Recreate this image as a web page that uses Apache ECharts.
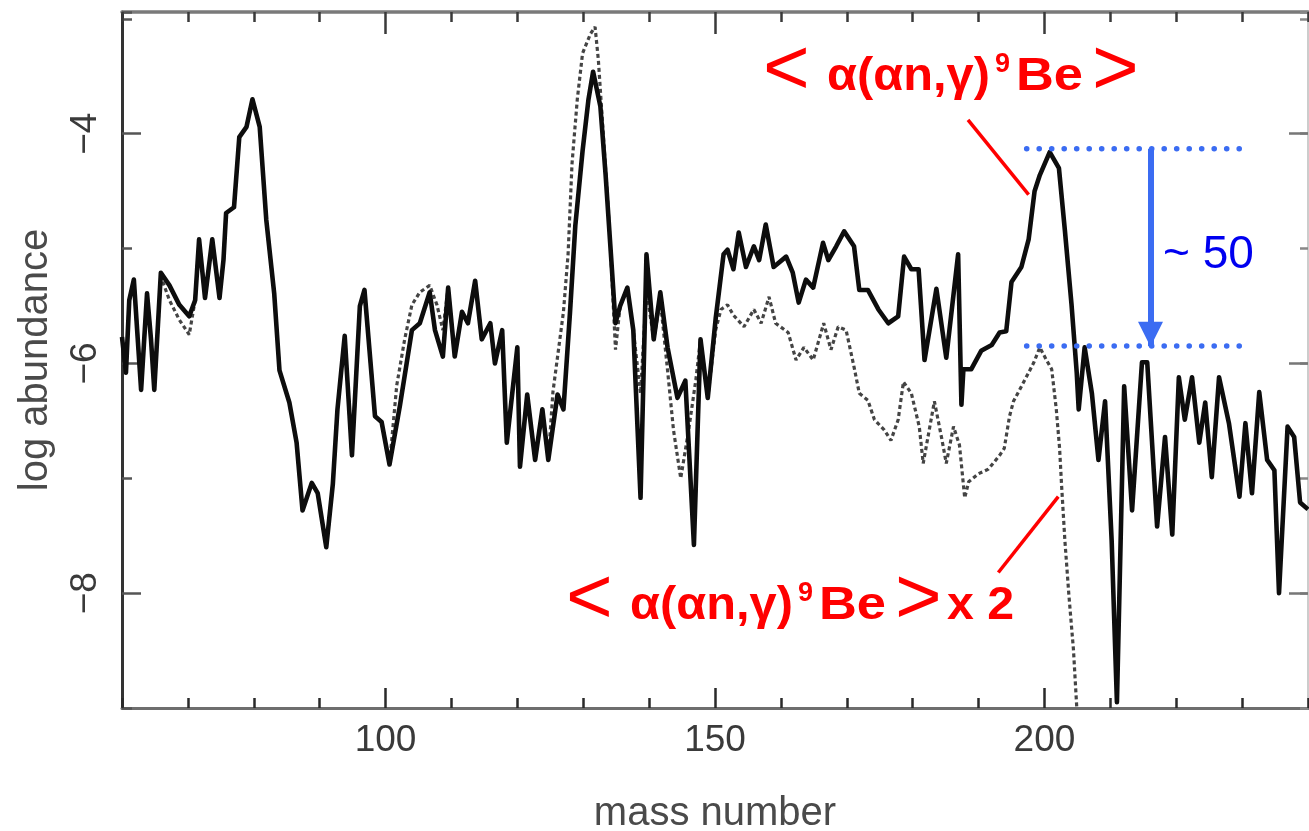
<!DOCTYPE html>
<html>
<head>
<meta charset="utf-8">
<script src="https://cdn.jsdelivr.net/npm/echarts@6.0.0/dist/echarts.min.js"></script>
<style>
  html, body { margin: 0; padding: 0; background: #ffffff; }
  #chart { width: 1309px; height: 831px; }
</style>
</head>
<body>
<div id="chart"></div>
<script>
// Abundance pattern: solid curve (full network) and dotted curve (rate x 2)
const massSolid = [
  60.0,60.6,61.1,61.8,62.3,62.9,63.8,64.4,64.9,65.9,
  67.2,68.7,70.2,71.1,71.7,72.6,73.7,74.8,75.4,75.8,
  77.0,77.8,78.9,79.8,80.9,81.9,83.1,83.9,85.4,86.5,
  87.4,88.8,89.7,91.0,92.0,92.7,93.8,94.9,96.1,96.8,
  98.4,99.4,100.6,102.2,103.2,104.0,105.2,106.7,107.5,108.7,
  109.5,110.5,111.6,112.5,113.6,114.6,115.9,116.6,117.7,118.4,
  120.0,120.4,121.5,122.7,123.8,124.7,126.1,127.0,128.0,128.8,
  129.9,130.8,131.5,132.6,133.4,134.1,134.9,135.6,136.7,137.6,
  138.7,139.6,140.7,141.7,142.8,144.3,145.5,146.8,147.8,148.9,
  150.1,151.3,151.9,152.8,153.6,154.7,155.9,156.7,157.7,158.9,
  160.8,161.8,162.7,163.8,164.9,166.4,167.2,168.4,169.6,171.1,
  171.9,173.2,174.8,176.3,177.8,178.7,179.8,180.9,181.8,183.6,
  185.1,186.9,187.4,187.7,188.9,190.4,192.0,193.2,194.2,195.0,
  196.5,197.6,198.5,199.3,200.8,202.2,203.1,204.1,204.9,205.2,
  206.1,207.2,208.2,209.2,210.2,211.0,212.1,213.3,214.8,215.6,
  217.1,218.3,219.4,220.4,221.3,222.4,223.5,224.4,225.4,226.5,
  228.0,229.6,230.5,231.5,232.6,233.8,234.9,235.6,236.9,237.9,
  238.8,240.0
];
const logSolid = [
  -5.77,-6.08,-5.45,-5.27,-5.71,-6.23,-5.39,-5.79,-6.23,-5.21,
  -5.32,-5.49,-5.59,-5.45,-4.92,-5.43,-4.92,-5.43,-5.10,-4.69,
  -4.64,-4.03,-3.94,-3.70,-3.94,-4.75,-5.39,-6.06,-6.34,-6.69,
  -7.28,-7.04,-7.13,-7.60,-7.05,-6.40,-5.76,-6.80,-5.50,-5.36,
  -6.46,-6.51,-6.88,-6.36,-6.00,-5.71,-5.65,-5.38,-5.71,-5.94,
  -5.34,-5.94,-5.55,-5.65,-5.28,-5.79,-5.65,-6.00,-5.71,-6.69,
  -5.86,-6.90,-6.27,-6.84,-6.40,-6.84,-6.27,-6.40,-5.55,-4.80,
  -4.15,-3.70,-3.46,-3.76,-4.36,-4.96,-5.65,-5.50,-5.34,-5.71,
  -7.17,-5.05,-5.79,-5.38,-5.86,-6.30,-6.15,-7.58,-5.79,-6.30,
  -5.61,-5.05,-5.01,-5.18,-4.86,-5.16,-4.98,-5.10,-4.79,-5.16,
  -5.07,-5.21,-5.47,-5.27,-5.34,-4.95,-5.10,-4.98,-4.85,-4.98,
  -5.36,-5.36,-5.53,-5.65,-5.59,-5.07,-5.18,-5.18,-5.97,-5.35,
  -5.95,-5.05,-6.36,-6.05,-6.05,-5.89,-5.84,-5.73,-5.72,-5.29,
  -5.16,-4.92,-4.50,-4.36,-4.16,-4.30,-4.84,-5.48,-6.08,-6.40,
  -5.86,-6.26,-6.84,-6.33,-7.54,-8.95,-6.20,-7.28,-5.99,-5.99,
  -7.42,-6.64,-7.49,-6.12,-6.49,-6.12,-6.69,-6.34,-6.99,-6.12,
  -6.52,-7.16,-6.52,-7.13,-6.25,-6.84,-6.93,-8.00,-6.55,-6.64,
  -7.21,-7.27
];
const massDotted = [
  60.0,60.6,61.1,61.8,62.3,62.9,63.8,64.4,64.9,65.9,
  67.2,68.7,70.2,71.1,71.7,72.6,73.7,74.8,75.4,75.8,
  77.0,77.8,78.9,79.8,80.9,81.9,83.1,83.9,85.4,86.5,
  87.4,88.8,89.7,91.0,92.0,92.7,93.8,94.9,96.1,96.8,
  98.4,99.4,100.6,101.7,102.9,104.0,105.2,106.7,107.8,108.7,
  109.5,110.5,111.6,112.5,113.6,114.6,115.9,116.6,117.7,118.4,
  120.0,120.4,121.5,122.7,123.8,124.7,125.4,127.0,127.7,128.3,
  129.1,129.9,131.1,131.8,132.3,133.1,133.7,134.1,134.9,135.6,
  136.7,137.6,138.7,139.6,140.7,141.7,142.8,143.7,144.8,146.0,
  147.1,147.8,148.9,150.1,150.9,151.9,152.8,154.4,155.9,157.0,
  158.2,159.2,161.1,162.3,163.5,164.9,166.5,167.6,168.7,169.9,
  171.1,171.9,173.2,174.2,175.7,176.7,177.8,178.6,179.8,181.0,
  181.6,183.3,184.4,185.1,186.2,187.1,187.9,188.5,190.0,191.5,
  193.2,193.9,194.7,195.3,196.5,197.6,198.4,199.3,200.3,201.1,
  201.8,202.3,202.6,203.1,203.7,204.4,204.9
];
const logDotted = [
  -5.77,-6.08,-5.45,-5.27,-5.71,-6.23,-5.39,-5.79,-6.23,-5.24,
  -5.45,-5.62,-5.75,-5.45,-4.92,-5.43,-4.92,-5.43,-5.10,-4.69,
  -4.64,-4.03,-3.94,-3.70,-3.94,-4.75,-5.39,-6.06,-6.34,-6.69,
  -7.28,-7.04,-7.13,-7.60,-7.05,-6.40,-5.76,-6.80,-5.50,-5.36,
  -6.46,-6.51,-6.88,-6.19,-5.79,-5.49,-5.38,-5.32,-5.49,-5.71,
  -5.34,-5.94,-5.55,-5.65,-5.28,-5.79,-5.65,-6.00,-5.71,-6.69,
  -5.86,-6.90,-6.27,-6.84,-6.40,-6.84,-6.25,-5.55,-5.05,-4.26,
  -3.70,-3.30,-3.13,-3.07,-3.36,-4.05,-4.57,-4.96,-5.88,-5.50,
  -5.34,-5.71,-6.26,-5.36,-5.79,-5.45,-6.06,-6.58,-7.00,-6.58,
  -6.14,-5.79,-6.30,-5.71,-5.53,-5.49,-5.58,-5.68,-5.53,-5.65,
  -5.42,-5.65,-5.73,-5.97,-5.86,-5.97,-5.65,-5.88,-5.68,-5.71,
  -6.03,-6.26,-6.32,-6.49,-6.58,-6.67,-6.49,-6.16,-6.26,-6.55,
  -6.87,-6.33,-6.65,-6.87,-6.55,-6.71,-7.17,-7.03,-6.96,-6.92,
  -6.80,-6.74,-6.46,-6.33,-6.20,-6.08,-5.99,-5.86,-5.97,-6.05,
  -6.40,-6.74,-7.06,-7.54,-8.01,-8.49,-8.99
];

// Axis tick values
const xLabelTicks = [100, 150, 200];
const yLabelTicks = [-8, -6, -4];

// Peak-ratio marker (~50) between the two curves near A = 200
const ratioSpan = [197.3, 231.2];
const ratioLevels = [-4.13, -5.85];
const ratioArrowMass = 216.1;

// Callout leader lines [mass, log abundance]
const calloutTop = [[188.4, -3.88], [197.6, -4.53]];
const calloutBottom = [[193.0, -7.82], [202.1, -7.16]];

const pair = (xs, ys) => xs.slice(0, Math.min(xs.length, ys.length)).map((x, i) => [x, ys[i]]);

const FONT = '"Liberation Sans", Arial, Helvetica, sans-serif';
const RED = '#ff0000';
const BLUE = '#3b6cf2';

const xRange = { min: 60, max: 240 };
const yRange = { min: -9, max: -2.94 };

const chart = echarts.init(document.getElementById('chart'), null, { renderer: 'canvas' });

const option = {
  backgroundColor: '#ffffff',
  animation: false,
  grid: { left: 122, right: 1, top: 12, bottom: 123, containLabel: false, outerBoundsMode: 'none' },
  xAxis: [
    {
      type: 'value', position: 'bottom', ...xRange, interval: 10,
      axisLine: { show: true, lineStyle: { color: '#6e6e6e', width: 3 } },
      axisTick: { show: true, inside: true, length: 10, lineStyle: { color: '#2a2a2a', width: 2.5 } },
      axisLabel: { customValues: xLabelTicks, fontSize: 37, color: '#3a3a3a', fontFamily: FONT, margin: 14 },
      splitLine: { show: false },
      name: 'mass number', nameLocation: 'middle', nameGap: 86,
      nameTextStyle: { fontSize: 40, color: '#4a4a4a', fontFamily: FONT }
    },
    {
      type: 'value', position: 'bottom', ...xRange,
      axisLine: { show: false },
      axisTick: { show: true, inside: true, length: 20, customValues: xLabelTicks, lineStyle: { color: '#2a2a2a', width: 2.5 } },
      axisLabel: { show: false },
      splitLine: { show: false }
    },
    {
      type: 'value', position: 'top', ...xRange, interval: 10,
      axisLine: { show: true, lineStyle: { color: '#7a7a7a', width: 3.5 } },
      axisTick: { show: true, inside: true, length: 10, lineStyle: { color: '#3a3a3a', width: 2.5 } },
      axisLabel: { show: false },
      splitLine: { show: false }
    },
    {
      type: 'value', position: 'top', ...xRange,
      axisLine: { show: false },
      axisTick: { show: true, inside: true, length: 22, customValues: xLabelTicks, lineStyle: { color: '#3a3a3a', width: 2.5 } },
      axisLabel: { show: false },
      splitLine: { show: false }
    }
  ],
  yAxis: [
    {
      type: 'value', position: 'left', ...yRange, interval: 1,
      axisLine: { show: true, lineStyle: { color: '#333333', width: 3 } },
      axisTick: { show: true, inside: true, length: 10, lineStyle: { color: '#555555', width: 2.5 } },
      axisLabel: {
        customValues: yLabelTicks, rotate: 90, fontSize: 37, color: '#3a3a3a', fontFamily: FONT, margin: 18,
        formatter: v => '\u2212' + Math.abs(v)
      },
      splitLine: { show: false },
      name: 'log abundance', nameLocation: 'middle', nameGap: 66, nameMoveOverlap: false,
      nameTextStyle: { fontSize: 40, color: '#4a4a4a', fontFamily: FONT }
    },
    {
      type: 'value', position: 'left', ...yRange,
      axisLine: { show: false },
      axisTick: { show: true, inside: true, length: 19, customValues: yLabelTicks, lineStyle: { color: '#555555', width: 2.5 } },
      axisLabel: { show: false },
      splitLine: { show: false }
    },
    {
      type: 'value', position: 'right', ...yRange, interval: 1,
      axisLine: { show: true, lineStyle: { color: '#cccccc', width: 2 } },
      axisTick: { show: true, inside: true, length: 8, lineStyle: { color: '#888888', width: 2.5 } },
      axisLabel: { show: false },
      splitLine: { show: false }
    },
    {
      type: 'value', position: 'right', ...yRange,
      axisLine: { show: false },
      axisTick: { show: true, inside: true, length: 19, customValues: yLabelTicks, lineStyle: { color: '#777777', width: 2.5 } },
      axisLabel: { show: false },
      splitLine: { show: false }
    }
  ],
  series: [
    {
      name: 'x 2', type: 'line', xAxisIndex: 0, yAxisIndex: 0, z: 2,
      data: pair(massDotted, logDotted),
      showSymbol: false, symbol: 'none', smooth: false, clip: true,
      lineStyle: { color: '#444444', width: 3.2, type: [4, 3] }
    },
    {
      name: 'standard', type: 'line', xAxisIndex: 0, yAxisIndex: 0, z: 3,
      data: pair(massSolid, logSolid),
      showSymbol: false, symbol: 'none', smooth: false, clip: true,
      lineStyle: { color: '#0d0d0d', width: 4.6, join: 'round' }
    },
    {
      name: 'ratio', type: 'line', xAxisIndex: 0, yAxisIndex: 0, z: 6, silent: true,
      data: ratioSpan.map(m => [m, ratioLevels[0]]),
      showSymbol: false, symbol: 'none',
      lineStyle: { color: BLUE, width: 5.5, type: [0.1, 12.4], cap: 'round' },
      markLine: {
        silent: true, animation: false, label: { show: false }, emphasis: { disabled: true },
        symbol: ['none', 'none'],
        data: [
          [
            { coord: [ratioSpan[0], ratioLevels[1]], symbol: 'none',
              lineStyle: { color: BLUE, width: 5.5, type: [0.1, 12.4], cap: 'round' } },
            { coord: [ratioSpan[1], ratioLevels[1]], symbol: 'none' }
          ],
          [
            { coord: [ratioArrowMass, ratioLevels[0]], symbol: 'none',
              lineStyle: { color: BLUE, width: 6, type: 'solid' } },
            { coord: [ratioArrowMass, ratioLevels[1]], symbol: 'triangle', symbolSize: 25, symbolOffset: [0, 12] }
          ]
        ]
      }
    },
    {
      name: 'callout top', type: 'line', z: 6, silent: true,
      data: calloutTop, showSymbol: false, symbol: 'none',
      lineStyle: { color: RED, width: 3.5 }
    },
    {
      name: 'callout bottom', type: 'line', z: 6, silent: true,
      data: calloutBottom, showSymbol: false, symbol: 'none',
      lineStyle: { color: RED, width: 3.5 }
    }
  ],
  graphic: []
};

// Red reaction labels, blue ratio label
function txt(x, y, text, size, weight, color, sx) {
  return {
    type: 'text', x: x, y: y, z: 20, silent: true, scaleX: sx || 1,
    style: {
      text: text, fill: color, fontSize: size, fontWeight: weight,
      fontFamily: FONT, align: 'left', verticalAlign: 'middle'
    }
  };
}
function reactionLabel(dx, dy) {
  return [
    txt(763 + dx, 72 + dy, '<', 80, 'normal', RED),
    txt(827 + dx, 77 + dy, '\u03b1(\u03b1n,\u03b3)', 46, 'bold', RED, 1.06),
    txt(995 + dx, 65 + dy, '9', 27, 'bold', RED),
    txt(1016 + dx, 77 + dy, 'Be', 46, 'bold', RED, 1.14),
    txt(1092 + dx, 72 + dy, '>', 80, 'normal', RED)
  ];
}
option.graphic = [
  ...reactionLabel(0, 0),
  ...reactionLabel(-197, 529),
  txt(947, 606, 'x 2', 46, 'bold', RED, 1.05),
  txt(1163, 255, '~ 50', 46, 'normal', '#0000f0')
];

chart.setOption(option);
</script>
</body>
</html>
